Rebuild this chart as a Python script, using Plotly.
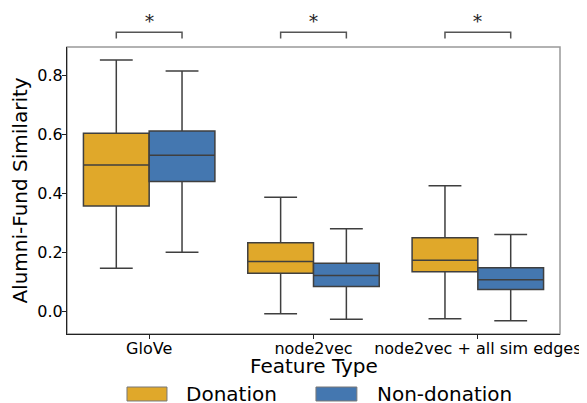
import plotly.graph_objects as go

categories = ["GloVe", "node2vec", "node2vec + all sim edges"]
series_names = ["Donation", "Non-donation"]
colors = ["#E0A82A", "#4477B0"]

# box statistics per series: lower whisker, q1, median, q3, upper whisker
don_lower = [0.147, -0.007, -0.024]
don_q1 = [0.358, 0.130, 0.135]
don_median = [0.497, 0.170, 0.174]
don_q3 = [0.605, 0.233, 0.250]
don_upper = [0.853, 0.388, 0.427]

non_lower = [0.201, -0.026, -0.031]
non_q1 = [0.441, 0.085, 0.075]
non_median = [0.530, 0.122, 0.108]
non_q3 = [0.612, 0.164, 0.149]
non_upper = [0.816, 0.281, 0.261]

sig_labels = ["*", "*", "*"]

FONT = "DejaVu Sans"
EDGE = "#3f3f3f"

fig = go.Figure()
stats = [
    (don_lower, don_q1, don_median, don_q3, don_upper),
    (non_lower, non_q1, non_median, non_q3, non_upper),
]
for name, col, (lo, q1, med, q3, up) in zip(series_names, colors, stats):
    fig.add_trace(go.Box(
        name=name, x=categories, lowerfence=lo, q1=q1, median=med, q3=q3,
        upperfence=up, fillcolor=col, line=dict(color=EDGE, width=1.5),
        whiskerwidth=0.5, boxpoints=False, showlegend=False,
    ))

shapes = []
annotations = []
# plot frame (top/right gray)
shapes.append(dict(type="rect", xref="paper", yref="paper", x0=0, x1=1, y0=0, y1=1,
                   line=dict(color="#999999", width=1.5), layer="below"))
# significance brackets
for i, lab in enumerate(sig_labels):
    xa, xb = i - 0.2, i + 0.2
    shapes.append(dict(type="path", xref="x", yref="paper",
                       path=f"M {xa},1.030 L {xa},1.051 L {xb},1.051 L {xb},1.030",
                       line=dict(color="#555555", width=1.5)))
    annotations.append(dict(x=i, y=1.088, xref="x", yref="paper", text=lab,
                            showarrow=False, yanchor="middle",
                            font=dict(family="DejaVu Serif", size=18, color="#222222")))

# x axis title
annotations.append(dict(x=0.5, y=-0.1115, xref="paper", yref="paper", text="Feature Type",
                        showarrow=False, xanchor="center", yanchor="middle",
                        font=dict(family=FONT, size=20, color="black")))

# manual legend
leg = [(0.1217, 0.2028, 0.2373), (0.505, 0.588, 0.6247)]
for (x0, x1, xt), name, col in zip(leg, series_names, colors):
    shapes.append(dict(type="rect", xref="paper", yref="paper", x0=x0, x1=x1,
                       y0=-0.2334, y1=-0.1847, fillcolor=col,
                       line=dict(color="#777777", width=1)))
    annotations.append(dict(x=xt, y=-0.209, xref="paper", yref="paper", text=name,
                            showarrow=False, xanchor="left", yanchor="middle",
                            font=dict(family=FONT, size=20, color="black")))

fig.update_layout(
    width=587, height=403,
    margin=dict(l=59, r=35, t=39, b=77),
    paper_bgcolor="white", plot_bgcolor="white",
    boxmode="group", boxgap=0.2, boxgroupgap=0,
    font=dict(family=FONT, color="black"),
    shapes=shapes, annotations=annotations,
    xaxis=dict(
        type="category", range=[-0.5, 2.5], automargin=False,
        showline=True, linecolor="#222222", linewidth=1.2,
        ticks="outside", ticklen=4, tickcolor="#222222",
        tickfont=dict(family=FONT, size=16, color="black"),
        ticklabelstandoff=-4,
        showgrid=False, zeroline=False,
    ),
    yaxis=dict(
        range=[-0.076, 0.897], tickvals=[0, 0.2, 0.4, 0.6, 0.8], tickformat=".1f",
        automargin=False,
        showline=True, linecolor="#222222", linewidth=1.2,
        ticks="outside", ticklen=4, tickcolor="#222222",
        tickfont=dict(family=FONT, size=16, color="black"),
        ticklabelstandoff=-4,
        title=dict(text="Alumni-Fund Similarity", font=dict(family=FONT, size=20, color="black"), standoff=6),
        showgrid=False, zeroline=False,
    ),
)

fig.write_html("out.html")
